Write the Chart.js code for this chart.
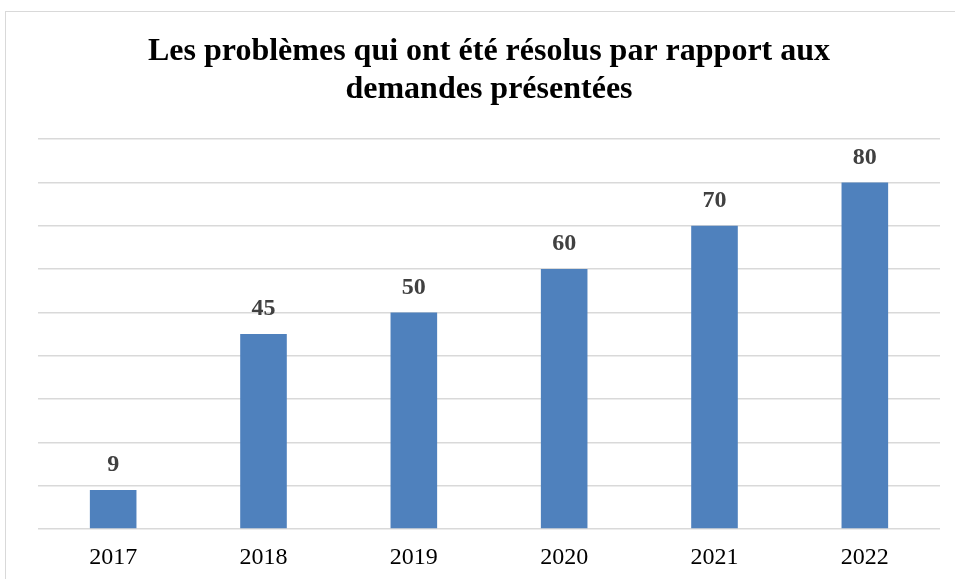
<!DOCTYPE html>
<html>
<head>
<meta charset="utf-8">
<script src="https://cdn.jsdelivr.net/npm/chart.js@4/dist/chart.umd.min.js"></script>
<style>
html,body{margin:0;padding:0;background:#fff;}
#wrap{width:955px;height:579px;position:relative;}
</style>
</head>
<body>
<div id="wrap"><canvas id="c" width="955" height="579"></canvas></div>
<script>
const titleLines = ["Les problèmes qui ont été résolus par rapport aux", "demandes présentées"];
const years = ["2017", "2018", "2019", "2020", "2021", "2022"];
const resolved = [9, 45, 50, 60, 70, 80];

const frame = {
  id: 'frame',
  beforeDraw(chart) {
    const ctx = chart.ctx;
    ctx.save();
    ctx.fillStyle = '#fff';
    ctx.fillRect(0, 0, chart.width, chart.height);
    ctx.strokeStyle = '#d9d9d9';
    ctx.lineWidth = 1;
    ctx.strokeRect(5.5, 11.5, 1200, 1200);
    ctx.restore();
  }
};

const labels = {
  id: 'labels',
  afterDatasetsDraw(chart) {
    const ctx = chart.ctx;
    const meta = chart.getDatasetMeta(0);
    ctx.save();
    ctx.font = 'bold 24px "Liberation Serif", "Times New Roman", serif';
    ctx.fillStyle = '#404040';
    ctx.textAlign = 'center';
    ctx.textBaseline = 'middle';
    meta.data.forEach((el, i) => {
      ctx.fillText(String(chart.data.datasets[0].data[i]), el.x, el.y - 25);
    });
    ctx.restore();
  }
};

new Chart(document.getElementById('c'), {
  type: 'bar',
  data: {
    labels: years,
    datasets: [{
      data: resolved,
      backgroundColor: '#4F81BD',
      borderWidth: 0,
      categoryPercentage: 1,
      barPercentage: 0.31
    }]
  },
  options: {
    responsive: false,
    animation: false,
    devicePixelRatio: 1,
    layout: { padding: { left: 38, right: 15, top: 33, bottom: 0 } },
    plugins: {
      legend: { display: false },
      tooltip: { enabled: false },
      title: {
        display: true,
        text: titleLines,
        color: '#000',
        font: { family: '"Liberation Serif", "Times New Roman", serif', size: 32, weight: 'bold', lineHeight: 1.19 },
        padding: { top: 0, bottom: 30 }
      }
    },
    scales: {
      x: {
        grid: { display: false, drawTicks: false },
        border: { display: false },
        ticks: {
          color: '#000',
          font: { family: '"Liberation Serif", "Times New Roman", serif', size: 24, lineHeight: 1.2 },
          padding: 14
        },
        afterFit(s) { s.height = 50; }
      },
      y: {
        min: 0, max: 90,
        grid: { color: '#d9d9d9', lineWidth: 1.5, drawTicks: false },
        border: { display: false },
        ticks: { display: false, stepSize: 10 },
        afterFit(s) { s.width = 0; }
      }
    }
  },
  plugins: [frame, labels]
});
</script>
</body>
</html>
